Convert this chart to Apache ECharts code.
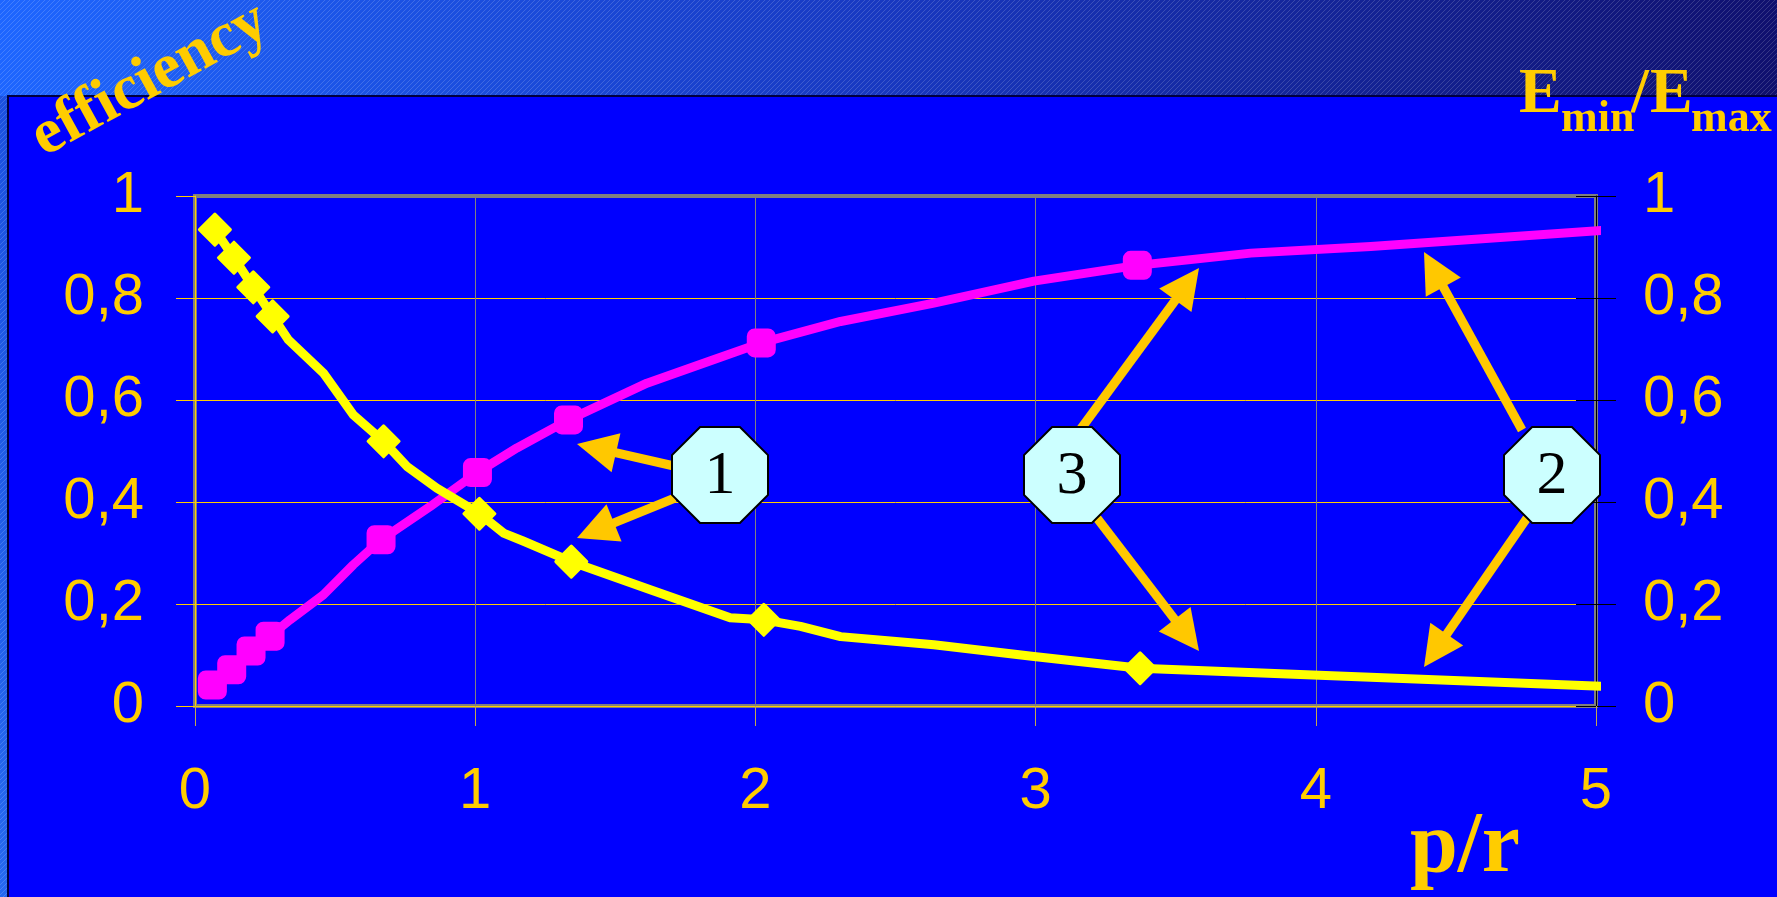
<!DOCTYPE html>
<html>
<head>
<meta charset="utf-8">
<script src="https://cdn.jsdelivr.net/npm/echarts@6/dist/echarts.min.js"></script>
<style>
  html, body { margin: 0; padding: 0; background: #0000ff; }
  #chart { width: 1777px; height: 897px; }
</style>
</head>
<body>
<div id="chart"></div>
<script>
// x values (p/r)
const xTicks = [0, 1, 2, 3, 4, 5];
const yTicks = [0, 0.2, 0.4, 0.6, 0.8, 1];

// yellow curve (efficiency), 1 = point carries a marker
const effX = [0.071, 0.139, 0.208, 0.277, 0.333, 0.458, 0.565, 0.673, 0.756, 0.863, 1.015, 1.101, 1.173, 1.343, 1.625, 1.91, 2.03, 2.161, 2.304, 2.637, 2.994, 3.373, 5.06];
const effY = [0.934, 0.879, 0.821, 0.764, 0.718, 0.653, 0.571, 0.519, 0.470, 0.427, 0.377, 0.339, 0.323, 0.283, 0.228, 0.173, 0.169, 0.156, 0.136, 0.120, 0.097, 0.074, 0.038];
const effMark = [1, 1, 1, 1, 0, 0, 0, 1, 0, 0, 1, 0, 0, 1, 0, 0, 1, 0, 0, 0, 0, 1, 0];

// magenta curve (Emin/Emax)
const ratioX = [0.062, 0.131, 0.200, 0.268, 0.339, 0.458, 0.565, 0.664, 0.839, 1.008, 1.149, 1.333, 1.613, 1.84, 2.021, 2.304, 2.637, 2.994, 3.363, 3.768, 4.196, 5.06];
const ratioY = [0.041, 0.071, 0.108, 0.137, 0.169, 0.218, 0.277, 0.326, 0.391, 0.458, 0.506, 0.561, 0.633, 0.677, 0.712, 0.754, 0.790, 0.833, 0.864, 0.888, 0.901, 0.934];
const ratioMark = [1, 1, 1, 1, 0, 0, 0, 1, 0, 1, 0, 1, 0, 0, 1, 0, 0, 0, 1, 0, 0, 0];

// callouts: numbered octagons and their arrows (pixel positions)
const callouts = [
  { label: '1', cx: 720, cy: 475 },
  { label: '3', cx: 1072, cy: 475 },
  { label: '2', cx: 1552, cy: 475 }
];
const arrows = [
  [674, 466, 577, 444],
  [675, 498, 577, 538],
  [1080, 430, 1199, 268],
  [1097, 518, 1199, 651],
  [1522, 430, 1424, 252],
  [1527, 518, 1424, 667]
];

const gold = '#FFCC00';
const serif = '"Liberation Serif", "Times New Roman", serif';
const sans = '"Liberation Sans", Arial, sans-serif';

// fine diagonal stripes for the title band
const stripe = document.createElement('canvas');
stripe.width = 5; stripe.height = 5;
const sc = stripe.getContext('2d');
sc.strokeStyle = 'rgba(255,255,255,0.16)';
sc.lineWidth = 1;
sc.beginPath(); sc.moveTo(0, 5); sc.lineTo(5, 0); sc.stroke();

const fmt = v => String(v).replace('.', ',');

const octagon = (cx, cy, r) => {
  const h = r / (1 + Math.SQRT2);
  return [[cx - h, cy - r], [cx + h, cy - r], [cx + r, cy - h], [cx + r, cy + h],
          [cx + h, cy + r], [cx - h, cy + r], [cx - r, cy + h], [cx - r, cy - h]];
};

const graphics = [];
// background band & left strip
graphics.push({ type: 'rect', z: -10, shape: { x: 0, y: 0, width: 1777, height: 96 },
  style: { fill: new echarts.graphic.LinearGradient(0, 0, 1, 1, [
    { offset: 0, color: '#1E66FF' }, { offset: 0.5, color: '#1838C0' }, { offset: 1, color: '#10106E' }]) } });
graphics.push({ type: 'rect', z: -10, shape: { x: 0, y: 96, width: 8, height: 801 },
  style: { fill: new echarts.graphic.LinearGradient(0, 0, 0, 1, [
    { offset: 0, color: '#1A50E0' }, { offset: 1, color: '#2468F0' }]) } });
graphics.push({ type: 'rect', z: -9, shape: { x: 0, y: 0, width: 1777, height: 96 },
  style: { fill: { image: stripe, repeat: 'repeat' } } });
graphics.push({ type: 'rect', z: -9, shape: { x: 0, y: 96, width: 8, height: 801 },
  style: { fill: { image: stripe, repeat: 'repeat' } } });
graphics.push({ type: 'polyline', z: -8, shape: { points: [[8, 897], [8, 96], [1777, 96]] },
  style: { stroke: '#000040', lineWidth: 2, fill: null } });

// axis titles
graphics.push({ type: 'text', z: 50, x: 150, y: 80, rotation: 0.5,
  style: { text: 'efficiency', fill: gold, font: 'bold 64px ' + serif, align: 'center', verticalAlign: 'middle' } });
graphics.push({ type: 'text', z: 50, x: 1410, y: 849,
  style: { text: 'p/r', fill: gold, font: 'bold 86px ' + serif, align: 'left', verticalAlign: 'middle' } });
[['E', 1519, 95, 64], ['min', 1561, 120, 44], ['/', 1631, 95, 64], ['E', 1650, 95, 64], ['max', 1691, 120, 44]]
  .forEach(([t, x, y, fs]) => {
    graphics.push({ type: 'text', z: 50, x: x, y: y,
      style: { text: t, fill: gold, font: 'bold ' + fs + 'px ' + serif, align: 'left', verticalAlign: 'middle' } });
  });

// arrows
arrows.forEach(([x1, y1, x2, y2]) => {
  const dx = x2 - x1, dy = y2 - y1, len = Math.hypot(dx, dy);
  const ux = dx / len, uy = dy / len;
  const bx = x2 - ux * 40, by = y2 - uy * 40;
  graphics.push({ type: 'line', z: 60, shape: { x1: x1, y1: y1, x2: bx + ux * 4, y2: by + uy * 4 },
    style: { stroke: '#FFC800', lineWidth: 9 } });
  graphics.push({ type: 'polygon', z: 60, shape: { points: [[x2, y2], [bx - uy * 20, by + ux * 20], [bx + uy * 20, by - ux * 20]] },
    style: { fill: '#FFC800' } });
});

// octagons
callouts.forEach(c => {
  graphics.push({ type: 'polygon', z: 70, shape: { points: octagon(c.cx, c.cy, 48) },
    style: { fill: '#CCFFFF', stroke: '#000000', lineWidth: 2 } });
  graphics.push({ type: 'text', z: 71, x: c.cx, y: c.cy + 2,
    style: { text: c.label, fill: '#000000', font: '62px ' + serif, align: 'center', verticalAlign: 'middle' } });
});

const yAxisBase = {
  type: 'value', min: 0, max: 1, interval: 0.2
};

const chart = echarts.init(document.getElementById('chart'), null, { renderer: 'canvas' });
chart.setOption({
  backgroundColor: '#0000FF',
  animation: false,
  grid: { left: 195, right: 181, top: 196, bottom: 191, show: true, borderColor: '#808080', borderWidth: 4, backgroundColor: 'transparent' },
  xAxis: {
    type: 'value', min: 0, max: 5, interval: 1,
    axisLine: { show: true, onZero: false, lineStyle: { color: gold, width: 1 } },
    axisTick: { show: true, length: 20, lineStyle: { color: '#C0A850', width: 1 } },
    axisLabel: { color: gold, fontSize: 58, fontFamily: sans, margin: 57 },
    splitLine: { show: true, showMinLine: false, showMaxLine: false, lineStyle: { color: '#808080', width: 1 } }
  },
  yAxis: [
    Object.assign({}, yAxisBase, {
      position: 'left',
      axisLine: { show: true, lineStyle: { color: gold, width: 1 } },
      axisTick: { show: true, length: 19, lineStyle: { color: gold, width: 1 } },
      axisLabel: { color: gold, fontSize: 58, fontFamily: sans, margin: 51, padding: [0, 0, 12, 0], formatter: fmt },
      splitLine: { show: true, showMaxLine: false, lineStyle: { color: gold, width: 1 } }
    }),
    Object.assign({}, yAxisBase, {
      position: 'right',
      axisLine: { show: true, lineStyle: { color: '#000000', width: 1 } },
      axisTick: { show: true, inside: true, length: 20, lineStyle: { color: '#000000', width: 1 } },
      axisLabel: { color: gold, fontSize: 58, fontFamily: sans, margin: 47, padding: [0, 0, 12, 0], formatter: fmt },
      splitLine: { show: false }
    }),
    Object.assign({}, yAxisBase, {
      position: 'right',
      axisLine: { show: false },
      axisTick: { show: true, length: 20, lineStyle: { color: '#000000', width: 1 } },
      axisLabel: { show: false },
      splitLine: { show: false }
    })
  ],
  series: [
    {
      name: 'efficiency', type: 'line', yAxisIndex: 0, clip: false,
      data: effX.map((x, i) => ({ value: [x, effY[i]], symbol: effMark[i] ? 'diamond' : 'none' })),
      symbolSize: 31,
      lineStyle: { color: '#FFFF00', width: 9, cap: 'round', join: 'round' },
      itemStyle: { color: '#FFFF00', borderColor: '#FFFF00', borderWidth: 3, borderJoin: 'round' },
      emphasis: { disabled: true }, z: 4
    },
    {
      name: 'Emin/Emax', type: 'line', yAxisIndex: 1, clip: false,
      data: ratioX.map((x, i) => ({ value: [x, ratioY[i]], symbol: ratioMark[i] ? 'roundRect' : 'none' })),
      symbolSize: 27,
      lineStyle: { color: '#FF00FF', width: 9, cap: 'round', join: 'round' },
      itemStyle: { color: '#FF00FF', borderColor: '#FF00FF', borderWidth: 2, borderJoin: 'round' },
      emphasis: { disabled: true }, z: 3
    }
  ],
  graphic: graphics
});
</script>
</body>
</html>
